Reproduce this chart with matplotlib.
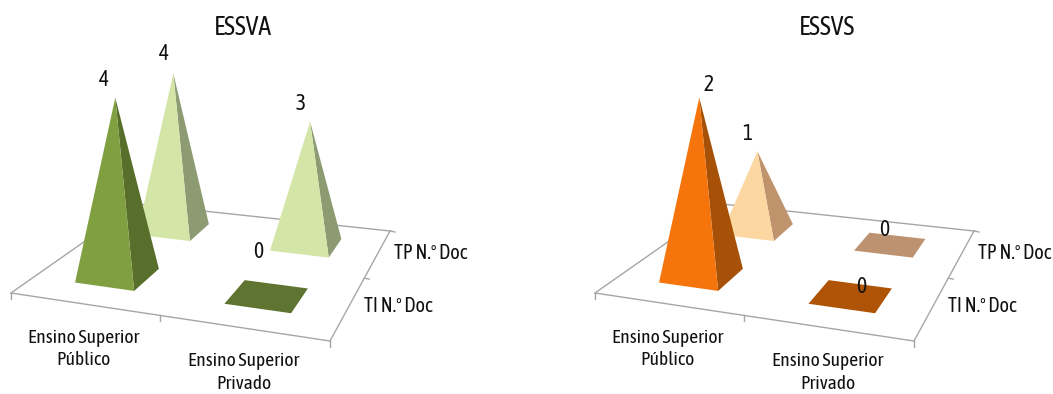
import numpy as np
import logging
import matplotlib
matplotlib.use('Agg')
import matplotlib.pyplot as plt
from matplotlib.patches import Polygon

logging.getLogger('matplotlib.font_manager').setLevel(logging.ERROR)

# Values per chart, rows are categories, columns are the two series
categories = ['Ensino Superior\nPúblico', 'Ensino Superior\nPrivado']
series_names = ['TI N.º Doc', 'TP N.º Doc']
titles = ['ESSVA', 'ESSVS']
essva_ti = [4, 0]
essva_tp = [4, 3]
essvs_ti = [2, 0]
essvs_tp = [1, 0]
axis_max = [4, 2]

# Face colours: series -> (front, side)
green = [('#7F9F40', '#586F2B'), ('#D3E6A8', '#8D9B72')]
orange = [('#F5740C', '#A65107'), ('#FDD7A1', '#BF936C')]
flat_green = ['#5E7430', '#D3E6A8']
flat_orange = ['#AF5406', '#BD9270']

# Label nudges from the top of each pyramid, [series][category]
label_nudge_a = [[(-11, -18), (-9, -44)], [(-9, -19), (-9, -18)]]
label_nudge_b = [[(9, -13), (10, -9)], [(-10, -17), (-6, -15)]]

# Floor corners on screen: front-left, front-right, back-right, back-left
FLOOR = np.array([[11, 293], [330, 341], [390, 231], [138, 204]], dtype=float)
CHART_SHIFT = 584
BAR_HALF_U = 0.205
BAR_HALF_V = 0.205
MAX_HEIGHT = 178.0
LEAN = 0.04
LEAN_CENTRE = 178.0
LINE = '#A6A6A6'
FONT = ['Ubuntu Condensed', 'Asap Condensed', 'Lato', 'DejaVu Sans']


def floor_matrix(corners):
    # Homography from the (0..2, 0..2) floor grid onto the screen
    src = [(0, 0), (2, 0), (2, 2), (0, 2)]
    A, b = [], []
    for (u, v), (x, y) in zip(src, corners):
        A.append([u, v, 1, 0, 0, 0, -u * x, -v * x])
        A.append([0, 0, 0, u, v, 1, -u * y, -v * y])
        b += [x, y]
    return np.append(np.linalg.solve(np.array(A), np.array(b)), 1).reshape(3, 3)


H = floor_matrix(FLOOR)
W_REF = (H @ [0.5, 0.5, 1])[2]


def project(u, v, z, shift, zmax):
    p = H @ [u, v, 1]
    # things further back get smaller, verticals spread apart going up
    scale = W_REF / p[2]
    x, y = p[0] / p[2], p[1] / p[2]
    frac = z / zmax
    return (x + LEAN * (x - LEAN_CENTRE) * frac + shift, y - MAX_HEIGHT * scale * frac)


def draw_pyramid(ax, cat, ser, value, colors, flat, shift, zmax, nudge):
    u0, v0 = cat + 0.5, ser + 0.5
    lo_u, hi_u = u0 - BAR_HALF_U, u0 + BAR_HALF_U
    lo_v, hi_v = v0 - BAR_HALF_V, v0 + BAR_HALF_V
    fl = project(lo_u, lo_v, 0, shift, zmax)
    fr = project(hi_u, lo_v, 0, shift, zmax)
    br = project(hi_u, hi_v, 0, shift, zmax)
    bl = project(lo_u, hi_v, 0, shift, zmax)
    top = project(u0, v0, value, shift, zmax)
    if value == 0:
        ax.add_patch(Polygon([fl, fr, br, bl], fc=flat, ec='none', zorder=3))
    else:
        ax.add_patch(Polygon([fr, br, top], fc=colors[1], ec='none', zorder=3))
        ax.add_patch(Polygon([fl, fr, top], fc=colors[0], ec='none', zorder=3))
    ax.text(top[0] + nudge[0], top[1] + nudge[1], str(value), fontsize=15.5,
            family=FONT, ha='center', va='center', color='#111111', zorder=5)


def draw_chart(ax, title, ti, tp, zmax, colors, flats, nudges, shift):
    ends = [project(*c, 0, shift, zmax) for c in [(0, 0), (2, 0), (2, 2), (0, 2)]]
    for a, b in zip(ends, ends[1:]):
        ax.plot([a[0], b[0]], [a[1], b[1]], color=LINE, lw=1, zorder=1)
    ax.plot([ends[3][0], ends[0][0]], [ends[3][1], ends[0][1]], color=LINE, lw=1, zorder=1)

    # tick marks along the front and right edges
    for u in range(3):
        x, y = project(u, 0, 0, shift, zmax)
        ax.plot([x, x], [y, y + 6], color=LINE, lw=1, zorder=1)
    for v in range(1, 3):
        x, y = project(2, v, 0, shift, zmax)
        ax.plot([x, x + 5], [y, y + 1], color=LINE, lw=1, zorder=1)

    # back row first so the front row covers it
    for ser, values in [(1, tp), (0, ti)]:
        for cat, value in enumerate(values):
            draw_pyramid(ax, cat, ser, value, colors[ser], flats[ser], shift, zmax,
                         nudges[ser][cat])

    ax.text(243 + shift, 27, title, fontsize=18.5, family=FONT, ha='center', va='center',
            color='#111111')
    for name, x, y in zip(categories, [84, 244], [349, 372.5]):
        ax.text(x + shift, y, name, fontsize=14, family=FONT, ha='center', va='center',
                linespacing=1.33, color='#111111')
    for name, x, y in zip(series_names, [364, 394], [306, 253]):
        ax.text(x + shift, y, name, fontsize=14.6, family=FONT, ha='left', va='center',
                color='#111111')


fig = plt.figure(figsize=(10.53, 3.94), dpi=100, facecolor='w')
ax = fig.add_axes([0, 0, 1, 1])
ax.set_xlim(0, 1053)
ax.set_ylim(394, 0)
ax.axis('off')

draw_chart(ax, titles[0], essva_ti, essva_tp, axis_max[0], green, flat_green, label_nudge_a, 0)
draw_chart(ax, titles[1], essvs_ti, essvs_tp, axis_max[1], orange, flat_orange, label_nudge_b,
           CHART_SHIFT)

fig.savefig('out.png', dpi=100)
